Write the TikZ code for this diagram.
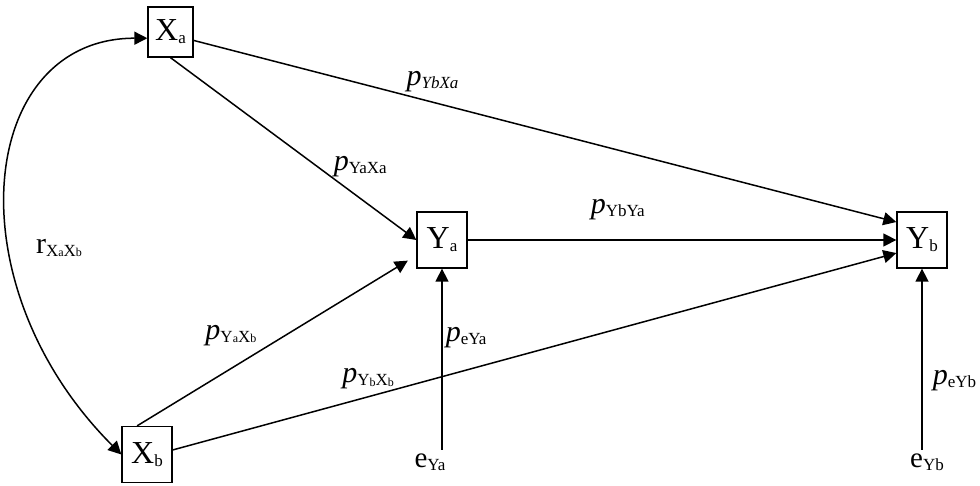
\documentclass[tikz,border=0pt]{standalone}
\usepackage{fontspec}
\setmainfont{Liberation Serif}
\usepackage{tikz}
\usetikzlibrary{arrows.meta,positioning}

\newcommand{\sbs}[1]{\raisebox{-3pt}{\fontsize{17}{17}\selectfont #1}}
\newcommand{\ssbs}[1]{\raisebox{-0.5pt}{\fontsize{12}{12}\selectfont #1}}

\begin{document}
\begin{tikzpicture}[x=1pt,y=1pt,->,>={Triangle[length=13pt,width=13pt]},
      shorten >=0pt,line width=1.5pt,node distance=480pt]
    \tikzstyle{var}=[draw,line width=1.3pt,minimum width=50pt,minimum height=56pt,
      inner sep=1pt,font=\fontsize{32}{34}\selectfont]
    \tikzstyle{err}=[inner sep=3pt,font=\fontsize{29}{30}\selectfont]
    \tikzstyle{coef}=[inner sep=0pt,font=\fontsize{30}{31}\selectfont]

    \useasboundingbox (0,0) rectangle (980,485);

    \node[var,minimum width=45pt,minimum height=50pt] (Xa) at (170.5,453) {X\sbs{a}};
    \node[var] (Xb)             at (147,30.5) {X\sbs{b}};
    \node[var] (Ya)             at (442,245)  {Y\sbs{a}};
    \node[var] (Yb) [right of=Ya]             {Y\sbs{b}};
    \node[err] (eYa)            at (430,23)   {e\sbs{Ya}};
    \node[err] (eYb)            at (927,23)   {e\sbs{Yb}};
    \node[coef] (rXX)           at (59,237)   {r\sbs{X\ssbs{a}X\ssbs{b}}};

    \path (Xa.south) edge node[coef,pos=0.6,right=15pt] {\textit{p}\sbs{YaXa}} (Ya.west)
    (Xa.-20) edge node[coef,pos=0.34,above=10pt] {\textit{p}\sbs{\textit{YbXa}}} (Yb.145)
    (Ya) edge node[coef,pos=0.35,above=19pt] {\textit{p}\sbs{YbYa}} (Yb)
    (Xb.109) edge [shorten >=10pt] node[coef,pos=0.53,left=28pt] {\textit{p}\sbs{Y\ssbs{a}X\ssbs{b}}} (Ya.211)
    (Xb.10) edge node[coef,pos=0.27,above=7pt] {\textit{p}\sbs{Y\ssbs{b}X\ssbs{b}}} (Yb.207)
    (eYa.north -| Ya.south) edge node[coef,pos=0.62,right=3pt] {\textit{p}\sbs{eYa}} (Ya.south)
    (eYb.north -| Yb.south) edge node[coef,pos=0.38,right=10pt] {\textit{p}\sbs{eYb}} (Yb.south)
    (Xa.195) edge [<->,out=180,in=135,out distance=170pt,in distance=240pt] (Xb.west);
  \end{tikzpicture}
\end{document}
